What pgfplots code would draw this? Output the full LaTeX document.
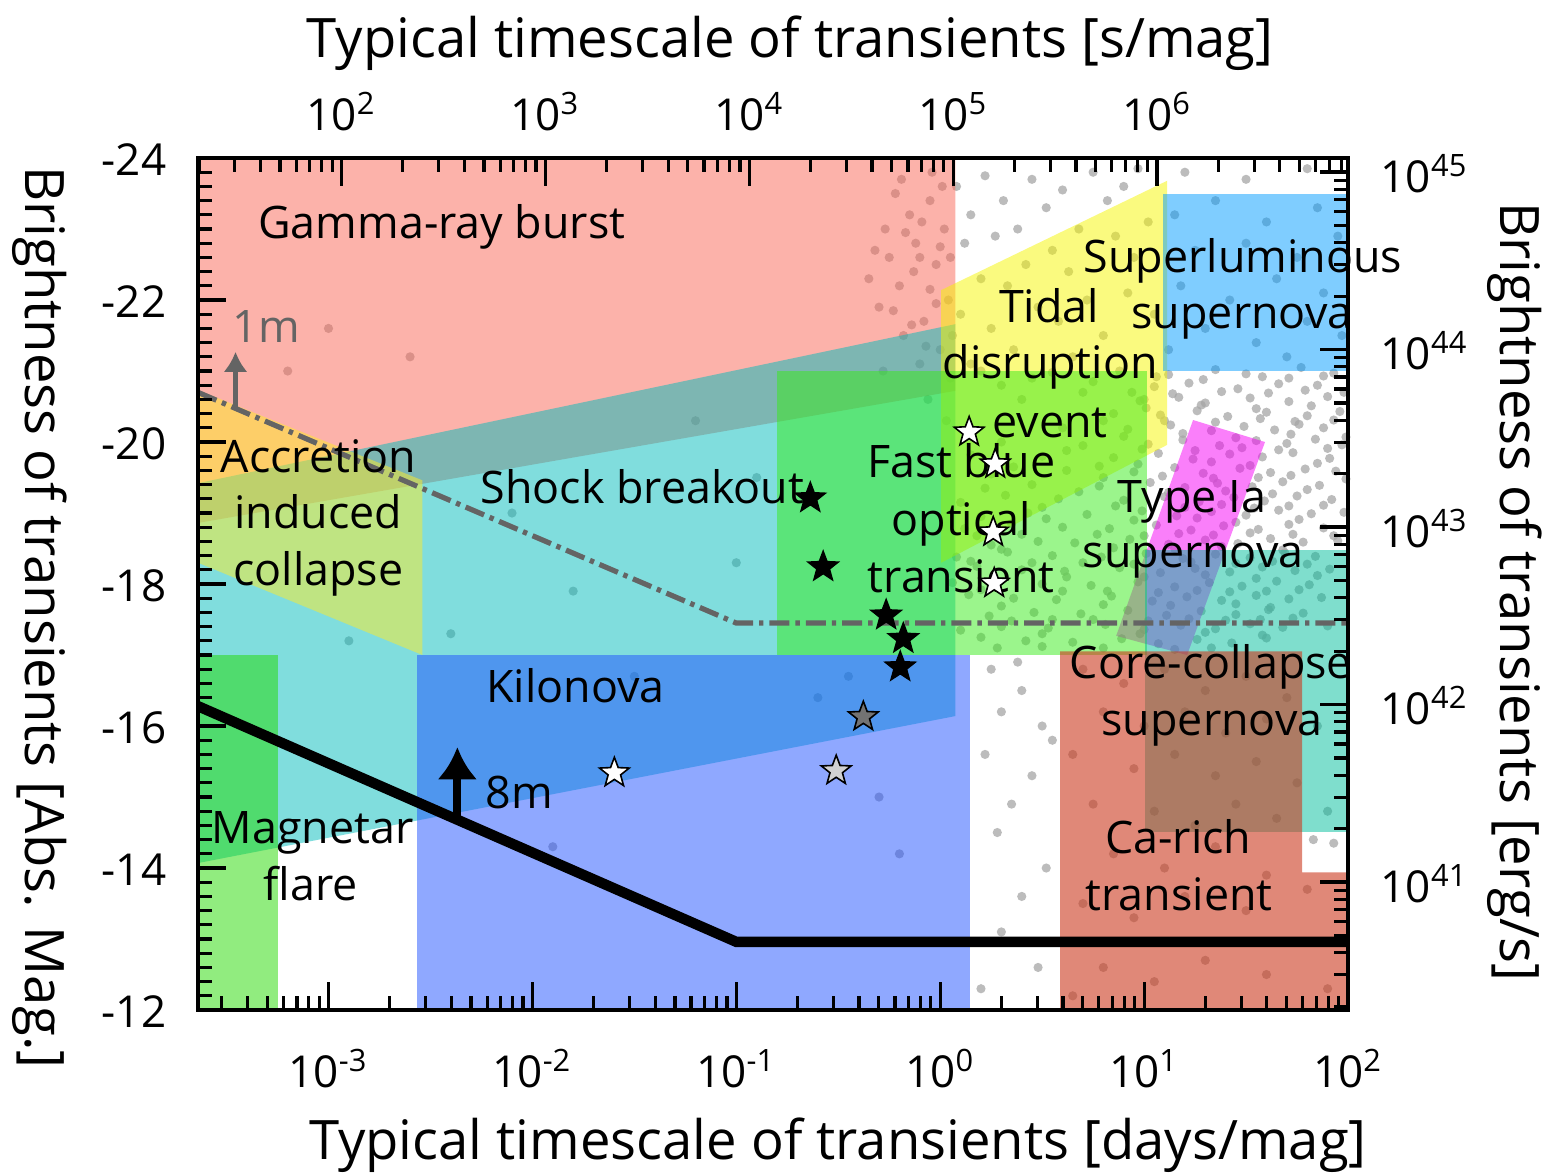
\documentclass[border=0pt]{standalone}
\usepackage{fontspec}
\setmainfont{Open Sans}
\usepackage{pgfplots}
\pgfplotsset{compat=1.18}
\usetikzlibrary{arrows.meta}
\definecolor{cgrb}{RGB}{249,101,85}
\definecolor{cteal}{RGB}{1,187,187}
\definecolor{caic}{RGB}{255,235,40}
\definecolor{cmag}{RGB}{35,217,0}
\definecolor{ckn}{RGB}{31,81,255}
\definecolor{ctde}{RGB}{245,245,0}
\definecolor{cia}{RGB}{245,0,245}
\definecolor{cfbot}{RGB}{55,235,25}
\definecolor{cslsn}{RGB}{0,155,255}
\definecolor{ccc}{RGB}{0,189,155}
\definecolor{cca}{RGB}{203,57,30}
\definecolor{lgray}{RGB}{100,100,100}
\definecolor{dotc}{RGB}{165,165,165}
\newcommand\lab{\fontsize{11.2}{13}\selectfont}
\newcommand\tlab{\fontsize{11}{13}\selectfont}
\newcommand\ttl{\fontsize{13.6}{16}\selectfont}
\pgfdeclareplotmark{fstar}{%
 \pgfpathmoveto{\pgfpointpolar{90}{\pgfplotmarksize}}%
 \pgfpathlineto{\pgfpointpolar{126}{0.42\pgfplotmarksize}}%
 \pgfpathlineto{\pgfpointpolar{162}{\pgfplotmarksize}}%
 \pgfpathlineto{\pgfpointpolar{198}{0.42\pgfplotmarksize}}%
 \pgfpathlineto{\pgfpointpolar{234}{\pgfplotmarksize}}%
 \pgfpathlineto{\pgfpointpolar{270}{0.42\pgfplotmarksize}}%
 \pgfpathlineto{\pgfpointpolar{306}{\pgfplotmarksize}}%
 \pgfpathlineto{\pgfpointpolar{342}{0.42\pgfplotmarksize}}%
 \pgfpathlineto{\pgfpointpolar{18}{\pgfplotmarksize}}%
 \pgfpathlineto{\pgfpointpolar{54}{0.42\pgfplotmarksize}}%
 \pgfpathclose
 \pgfusepathqfillstroke
}
\pgfdeclareplotmark{dot}{%
 \pgfpathcircle{\pgfpointorigin}{\pgfplotmarksize}%
 \pgfusepathqfill
}
\pgfplotsset{
  common/.style={
    at={(0pt,0pt)}, anchor=south west,
    scale only axis, width=287.5pt, height=213pt,
    tick align=inside,
    major tick length=7pt, minor tick length=3.5pt,
    every tick/.style={black, line width=0.8pt},
    axis line style={line width=1pt},
    tick label style={font=\tlab},
    label style={font=\ttl},
  }
}
\begin{document}
\begin{tikzpicture}
\path[use as bounding box] (-49.5pt,-40.5pt) rectangle (341.25pt,252.5pt);
% ---------------- main axis: log10(days) vs absolute magnitude
\begin{axis}[common,
  xmin=-3.64, xmax=2, ymin=-24, ymax=-12, y dir=reverse,
  clip mode=individual, axis on top,
  xtick pos=left, ytick pos=left,
  xtick={-3,-2,-1,0,1,2},
  xticklabels={10\textsuperscript{-3},10\textsuperscript{-2},10\textsuperscript{-1},10\textsuperscript{0},10\textsuperscript{1},10\textsuperscript{2}},
  minor xtick={-3.52288,-3.39794,-3.30103,-3.22185,-3.15490,-3.09691,-3.04576,
    -2.69897,-2.52288,-2.39794,-2.30103,-2.22185,-2.15490,-2.09691,-2.04576,
    -1.69897,-1.52288,-1.39794,-1.30103,-1.22185,-1.15490,-1.09691,-1.04576,
    -0.69897,-0.52288,-0.39794,-0.30103,-0.22185,-0.15490,-0.09691,-0.04576,
    0.30103,0.47712,0.60206,0.69897,0.77815,0.84510,0.90309,0.95424,
    1.30103,1.47712,1.60206,1.69897,1.77815,1.84510,1.90309,1.95424},
  ytick={-24,-22,-20,-18,-16,-14,-12},
  yticklabels={-24,-22,-20,-18,-16,-14,-12},
  minor y tick num=9,
  xticklabel style={anchor=base, yshift=-19.25pt, inner sep=0pt},
  yticklabel style={anchor=base east, xshift=-7.75pt, yshift=-4.25pt, inner sep=0pt},
  xlabel={Typical timescale of transients [days/mag]},
  ylabel={Brightness of transients [Abs. Mag.]},
  every axis x label/.style={at={(axis description cs:0.5565,-0.1749)}, anchor=base, font=\ttl},
  every axis y label/.style={at={(axis description cs:-0.1504,0.461)}, rotate=-90, anchor=base, font=\ttl},
]
% observed transients (background points)
\addplot[only marks, mark=dot, mark size=1.15pt, color=dotc, fill=dotc, opacity=0.75] coordinates {
(-0.05,-23.4) (0.02,-23.0) (-0.12,-22.8) (-0.02,-22.5) (-0.2,-22.2) (0.04,-22.0) (-0.08,-21.7) (-0.15,-23.2) (-0.25,-22.6) (-0.3,-21.9)
(0.0,-21.3) (-0.1,-21.1) (-0.18,-21.5) (0.05,-20.9) (-0.04,-23.8) (-0.22,-23.5) (-0.35,-22.3) (-0.28,-21.0) (-0.06,-20.6) (0.03,-20.3)
(-0.09,-23.1) (-0.17,-22.95) (0.0,-22.75) (-0.27,-23.0) (-0.13,-22.4) (-0.05,-22.15) (-0.23,-21.85) (-0.02,-21.95) (-0.14,-21.65) (0.06,-21.5)
(-0.32,-22.7) (-0.07,-21.35) (0.01,-23.6) (-0.19,-23.7) (-0.1,-22.6)
(-3.0,-21.6) (-3.2,-21.0) (-2.6,-21.2) (-2.1,-19.0) (-1.8,-17.9) (-2.4,-17.3) (-1.0,-18.3) (-1.5,-16.7) (-0.9,-19.5) (-1.2,-20.3)
(-2.9,-17.2) (-0.6,-16.4) (-1.9,-14.3) (-0.3,-15.0) (-0.45,-16.7) (-0.2,-14.2)
(0.08,-23.6) (0.15,-23.2) (0.22,-23.75) (0.31,-23.4) (0.12,-22.8) (0.27,-22.9) (0.38,-23.0) (0.45,-23.7) (0.52,-23.3) (0.6,-23.55)
(0.42,-22.5) (0.2,-22.3) (0.05,-22.6) (0.33,-22.2) (0.55,-22.7) (0.68,-23.0) (0.75,-23.8) (0.82,-23.4) (0.9,-23.6) (0.97,-23.85)
(0.63,-22.4) (0.72,-22.0) (0.86,-22.9) (0.95,-22.6) (1.02,-23.1) (0.48,-21.9) (0.1,-21.8) (0.25,-21.6) (0.36,-21.3) (0.58,-21.7)
(0.8,-21.5) (0.92,-22.1) (1.05,-21.8) (0.15,-21.1) (0.3,-20.8) (0.45,-20.9) (0.65,-21.2) (0.7,-20.7) (0.88,-21.0) (1.0,-20.6)
(1.12,-20.95) (1.35,-21.02) (1.58,-20.92) (1.77,-21.05) (1.93,-20.97) (0.55,-20.98) (0.2,-21.0)
(1.05,-20.78) (1.22,-20.83) (1.46,-20.75) (1.66,-20.82) (1.85,-20.8) (0.75,-20.85)
(0.98,-20.58) (1.17,-20.63) (1.30,-20.55) (1.52,-20.62) (1.71,-20.57) (1.90,-20.64) (0.4,-20.6)
(1.08,-20.38) (1.26,-20.44) (1.41,-20.36) (1.60,-20.42) (1.80,-20.37) (1.96,-20.43) (0.85,-20.4)
(0.92,-20.18) (1.13,-20.24) (1.33,-20.16) (1.49,-20.22) (1.64,-20.17) (1.76,-20.25) (1.88,-20.2) (0.6,-20.2)
(1.02,-19.97) (1.19,-20.03) (1.37,-19.95) (1.55,-20.02) (1.70,-19.98) (1.84,-20.04) (1.97,-19.96) (0.3,-20.0) (0.7,-19.95)
(0.85,-19.78) (1.07,-19.84) (1.24,-19.76) (1.42,-19.83) (1.58,-19.79) (1.73,-19.85) (1.91,-19.77) (0.5,-19.8) (0.15,-19.82)
(0.95,-19.58) (1.15,-19.64) (1.29,-19.56) (1.47,-19.63) (1.62,-19.57) (1.79,-19.62) (1.94,-19.59) (0.62,-19.6) (0.36,-19.65)
(0.78,-19.38) (1.03,-19.43) (1.20,-19.36) (1.36,-19.42) (1.53,-19.37) (1.68,-19.44) (1.86,-19.39) (0.45,-19.4) (0.22,-19.35)
(0.90,-19.18) (1.10,-19.23) (1.27,-19.16) (1.44,-19.22) (1.59,-19.17) (1.75,-19.24) (1.92,-19.19) (0.58,-19.2) (0.32,-19.25) (0.1,-19.15)
(0.72,-18.98) (0.99,-19.03) (1.16,-18.96) (1.33,-19.02) (1.50,-18.97) (1.66,-19.04) (1.82,-18.99) (1.98,-19.01) (0.43,-19.0) (0.2,-18.95)
(0.83,-18.78) (1.06,-18.83) (1.23,-18.76) (1.39,-18.82) (1.56,-18.77) (1.71,-18.84) (1.88,-18.79) (0.6,-18.8) (0.35,-18.85) (0.12,-18.78)
(0.66,-18.58) (0.93,-18.63) (1.12,-18.56) (1.30,-18.62) (1.46,-18.57) (1.62,-18.64) (1.78,-18.59) (1.95,-18.61) (0.48,-18.6) (0.25,-18.55)
(0.79,-18.38) (1.01,-18.43) (1.19,-18.36) (1.35,-18.42) (1.52,-18.37) (1.69,-18.44) (1.84,-18.39) (0.55,-18.4) (0.33,-18.45) (0.08,-18.38)
(0.61,-18.18) (0.88,-18.23) (1.08,-18.16) (1.25,-18.22) (1.42,-18.17) (1.58,-18.24) (1.74,-18.19) (1.91,-18.21) (0.4,-18.2) (0.18,-18.25)
(0.74,-17.98) (0.97,-18.03) (1.15,-17.96) (1.32,-18.02) (1.48,-17.97) (1.65,-18.04) (1.81,-17.99) (0.5,-18.0) (0.28,-17.95) (0.06,-18.02)
(0.57,-17.78) (0.84,-17.83) (1.04,-17.76) (1.21,-17.82) (1.38,-17.77) (1.55,-17.84) (1.71,-17.79) (1.87,-17.81) (0.36,-17.8) (0.14,-17.85)
(0.69,-17.58) (0.92,-17.63) (1.11,-17.56) (1.28,-17.62) (1.45,-17.57) (1.61,-17.64) (1.78,-17.59) (0.46,-17.6) (0.24,-17.55)
(0.53,-17.38) (0.81,-17.43) (1.00,-17.36) (1.18,-17.42) (1.35,-17.37) (1.52,-17.44) (1.68,-17.39) (1.9,-17.41) (0.3,-17.4) (0.1,-17.35)
(0.65,-17.18) (0.89,-17.23) (1.07,-17.16) (1.26,-17.22) (1.43,-17.17) (1.60,-17.24) (0.42,-17.2) (0.2,-17.25)
(1.01,-20.48) (1.28,-20.52) (1.55,-20.47) (1.82,-20.51)
(0.9,-20.08) (1.19,-20.12) (1.45,-20.06) (1.72,-20.11) (1.99,-20.07)
(0.97,-19.69) (1.33,-19.72) (1.52,-19.67) (1.85,-19.7) (0.78,-19.66)
(1.12,-19.29) (1.4,-19.31) (1.63,-19.27) (1.8,-19.33) (0.68,-19.3)
(0.95,-18.9) (1.26,-18.93) (1.45,-18.87) (1.76,-18.91) (0.52,-18.92)
(1.15,-18.5) (1.38,-18.53) (1.68,-18.48) (0.85,-18.51) (0.3,-18.49)
(1.0,-18.1) (1.3,-18.13) (1.55,-18.08) (1.85,-18.12) (0.62,-18.1)
(1.13,-17.7) (1.45,-17.72) (1.62,-17.67) (0.8,-17.71) (0.3,-17.69)
(0.98,-17.3) (1.3,-17.32) (1.58,-17.28) (0.5,-17.3)
(1.06,-20.92) (1.29,-20.88) (1.5,-20.96) (1.71,-20.9) (1.88,-20.93)
(0.94,-20.7) (1.14,-20.68) (1.38,-20.71) (1.61,-20.69) (1.79,-20.73) (1.98,-20.7)
(1.1,-20.3) (1.35,-20.28) (1.57,-20.33) (1.74,-20.29) (1.93,-20.31) (0.8,-20.3)
(0.99,-19.9) (1.25,-19.88) (1.48,-19.92) (1.66,-19.89) (1.9,-19.91) (0.62,-19.88)
(1.09,-19.52) (1.34,-19.49) (1.56,-19.5) (1.72,-19.53) (1.99,-19.48) (0.8,-19.5) (0.25,-19.55)
(0.86,-19.1) (1.2,-19.08) (1.38,-19.12) (1.54,-19.07) (1.71,-19.1) (1.88,-19.11) (0.5,-19.08)
(0.77,-18.7) (1.0,-18.68) (1.17,-18.71) (1.34,-18.69) (1.52,-18.72) (1.73,-18.7) (1.93,-18.68) (0.4,-18.7) (0.18,-18.68)
(0.7,-18.3) (0.95,-18.28) (1.23,-18.31) (1.45,-18.29) (1.63,-18.32) (1.8,-18.28) (0.45,-18.3) (0.15,-18.32)
(0.82,-17.9) (1.07,-17.88) (1.26,-17.91) (1.42,-17.89) (1.6,-17.9) (1.76,-17.92) (0.6,-17.9) (0.2,-17.92)
(0.75,-17.5) (1.02,-17.48) (1.22,-17.51) (1.4,-17.49) (1.57,-17.5) (1.73,-17.52) (0.55,-17.5) (0.35,-17.48)
(0.8,-17.1) (1.15,-17.08) (1.33,-17.1) (0.5,-17.12) (0.28,-17.1)
(0.25,-16.8) (0.4,-16.5) (0.3,-16.2) (0.5,-16.0) (0.22,-15.6) (0.45,-15.3) (0.35,-14.9) (0.28,-14.5) (0.52,-14.0) (0.4,-13.6)
(0.3,-13.1) (0.48,-12.6) (0.2,-12.3) (0.55,-15.8) (0.38,-16.9)
(0.7,-16.8) (0.9,-16.6) (1.1,-16.8) (1.3,-16.5) (1.5,-16.7) (1.7,-16.4) (0.8,-16.2) (1.0,-16.0) (1.2,-16.2) (1.4,-15.9)
(1.6,-16.1) (1.85,-16.0) (0.65,-15.6) (0.95,-15.4) (1.15,-15.6) (1.35,-15.3) (1.55,-15.5) (1.75,-15.2) (0.75,-14.9) (1.05,-14.8)
(1.25,-14.6) (1.45,-14.9) (1.65,-14.7) (1.9,-14.8) (0.85,-14.2) (1.1,-14.0) (1.35,-14.3) (1.6,-13.9) (0.7,-13.5) (0.95,-13.3)
(1.2,-13.6) (1.5,-13.4) (1.8,-13.7) (0.8,-12.6) (1.05,-12.4) (1.3,-12.7) (1.6,-12.5) (1.9,-12.3) (0.65,-12.2) (1.83,-14.4) (1.93,-14.35)
(1.15,-23.2) (1.35,-23.4) (1.6,-23.1) (1.85,-23.3) (1.25,-22.7) (1.5,-22.8) (1.75,-22.6) (1.95,-22.9) (1.18,-22.2) (1.42,-22.0)
(1.65,-22.3) (1.88,-22.1) (1.3,-21.6) (1.55,-21.4) (1.8,-21.7) (1.12,-21.3) (1.7,-21.2) (1.97,-21.5) (1.2,-23.8) (1.5,-23.7) (1.8,-23.85)
};
% ---- transient classes
% Gamma-ray burst
\addplot[draw=none, fill=cgrb, fill opacity=0.5] coordinates {(-3.64,-24) (0.074,-24) (0.074,-20.72) (-3.64,-18.86)} -- cycle;
% Shock breakout
\addplot[draw=none, fill=cteal, fill opacity=0.5] coordinates {(-3.64,-19.42) (0.074,-21.66) (0.074,-16.14) (-3.64,-14.07)} -- cycle;
% Accretion induced collapse
\addplot[draw=none, fill=caic, fill opacity=0.5] coordinates {(-3.64,-20.73) (-2.539,-19.46) (-2.539,-17.0) (-3.64,-18.30)} -- cycle;
% Magnetar flare
\addplot[draw=none, fill=cmag, fill opacity=0.5] coordinates {(-3.64,-17) (-3.25,-17) (-3.25,-12) (-3.64,-12)} -- cycle;
% Kilonova
\addplot[draw=none, fill=ckn, fill opacity=0.5] coordinates {(-2.564,-17) (0.147,-17) (0.147,-12) (-2.564,-12)} -- cycle;
% Tidal disruption event
\addplot[draw=none, fill=ctde, fill opacity=0.5] coordinates {(0.005,-22.14) (1.113,-23.68) (1.113,-19.96) (0.005,-18.30)} -- cycle;
% Type Ia supernova
\addplot[draw=none, fill=cia, fill opacity=0.5] coordinates {(1.240,-20.31) (1.593,-20.0) (1.211,-17.0) (0.863,-17.27)} -- cycle;
% Fast blue optical transient
\addplot[draw=none, fill=cfbot, fill opacity=0.5] coordinates {(-0.799,-21.0) (1.015,-21.0) (1.015,-17.0) (-0.799,-17.0)} -- cycle;
% Superluminous supernova
\addplot[draw=none, fill=cslsn, fill opacity=0.5] coordinates {(1.093,-23.5) (2,-23.5) (2,-21) (1.093,-21)} -- cycle;
% Core-collapse supernova
\addplot[draw=none, fill=ccc, fill opacity=0.5] coordinates {(1.005,-18.48) (2,-18.48) (2,-14.51) (1.005,-14.51)} -- cycle;
% Ca-rich transient
\addplot[draw=none, fill=cca, fill opacity=0.6] coordinates {(0.588,-17.05) (1.775,-17.05) (1.775,-13.94) (2,-13.94) (2,-12) (0.588,-12)} -- cycle;
% ---- detection limits
\addplot[lgray, line width=1.3pt, dash pattern=on 5pt off 1.5pt on 1.1pt off 1.5pt] coordinates {(-3.64,-20.70) (-1.0,-17.45) (2,-17.45)};
\addplot[black, line width=2.6pt] coordinates {(-3.64,-16.28) (-1.0,-12.96) (2,-12.96)};
\addplot[lgray, line width=1.2pt, -{Latex[length=5pt,width=6pt]}] coordinates {(-3.456,-20.47) (-3.456,-21.27)};
\addplot[black, line width=2pt, -{Latex[length=8pt,width=10pt]}] coordinates {(-2.368,-14.68) (-2.368,-15.70)};
% ---- labels
\node[anchor=base, font=\lab] at (axis cs:-2.444,-22.873) {Gamma-ray burst};
\node[anchor=base, font=\lab, text=lgray] at (axis cs:-3.304,-21.408) {1m};
\node[anchor=base, font=\lab] at (axis cs:-3.049,-19.577) {Accretion};
\node[anchor=base, font=\lab] at (axis cs:-3.049,-18.789) {induced};
\node[anchor=base, font=\lab] at (axis cs:-3.049,-17.986) {collapse};
\node[anchor=base, font=\lab] at (axis cs:-1.461,-19.141) {Shock breakout};
\node[anchor=base, font=\lab] at (axis cs:-1.789,-16.338) {Kilonova};
\node[anchor=base, font=\lab] at (axis cs:-2.064,-14.845) {8m};
\node[anchor=base, font=\lab] at (axis cs:-3.078,-14.352) {Magnetar};
\node[anchor=base, font=\lab] at (axis cs:-3.088,-13.549) {flare};
\node[anchor=base, font=\lab] at (axis cs:0.534,-21.690) {Tidal};
\node[anchor=base, font=\lab] at (axis cs:0.539,-20.901) {disruption};
\node[anchor=base, font=\lab] at (axis cs:0.539,-20.070) {event};
\node[anchor=base, font=\lab] at (axis cs:0.103,-19.507) {Fast blue};
\node[anchor=base, font=\lab] at (axis cs:0.103,-18.690) {optical};
\node[anchor=base, font=\lab] at (axis cs:0.103,-17.887) {transient};
\node[anchor=base, font=\lab] at (axis cs:1.485,-22.394) {Superluminous};
\node[anchor=base, font=\lab] at (axis cs:1.480,-21.606) {supernova};
\node[anchor=base, font=\lab] at (axis cs:1.235,-19.014) {Type Ia};
\node[anchor=base, font=\lab] at (axis cs:1.240,-18.239) {supernova};
\node[anchor=base, font=\lab] at (axis cs:1.328,-16.676) {Core-collapse};
\node[anchor=base, font=\lab] at (axis cs:1.333,-15.873) {supernova};
\node[anchor=base, font=\lab] at (axis cs:1.167,-14.211) {Ca-rich};
\node[anchor=base, font=\lab] at (axis cs:1.172,-13.408) {transient};
% ---- individual transients (stars)
\addplot[only marks, mark=fstar, mark size=3.9pt, mark options={fill=black, draw=black, line width=0.4pt}] coordinates {
(-0.637,-19.21) (-0.574,-18.24) (-0.265,-17.56) (-0.181,-17.23) (-0.196,-16.83)};
\addplot[only marks, mark=fstar, mark size=3.9pt, mark options={fill=black!55, draw=black, line width=0.4pt}] coordinates {(-0.377,-16.13)};
\addplot[only marks, mark=fstar, mark size=3.9pt, mark options={fill=black!18, draw=black, line width=0.4pt}] coordinates {(-0.510,-15.37)};
\addplot[only marks, mark=fstar, mark size=3.9pt, mark options={fill=white, draw=black, line width=0.4pt}] coordinates {
(-1.598,-15.34) (0.142,-20.14) (0.270,-19.69) (0.260,-18.73) (0.265,-18.01)};
\end{axis}
% ---------------- top axis: seconds per magnitude
\begin{axis}[common,
  xmin=1.2965, xmax=6.9365, ymin=0, ymax=1,
  axis x line*=top, axis y line=none,
  axis line style={-},
  xtick={2,3,4,5,6},
  xticklabels={10\textsuperscript{2},10\textsuperscript{3},10\textsuperscript{4},10\textsuperscript{5},10\textsuperscript{6}},
  minor xtick={1.30103,1.47712,1.60206,1.69897,1.77815,1.84510,1.90309,1.95424,
    2.30103,2.47712,2.60206,2.69897,2.77815,2.84510,2.90309,2.95424,
    3.30103,3.47712,3.60206,3.69897,3.77815,3.84510,3.90309,3.95424,
    4.30103,4.47712,4.60206,4.69897,4.77815,4.84510,4.90309,4.95424,
    5.30103,5.47712,5.60206,5.69897,5.77815,5.84510,5.90309,5.95424,
    6.30103,6.47712,6.60206,6.69897,6.77815,6.84510,6.90309},
  xticklabel style={anchor=base, yshift=7pt, inner sep=0pt},
  xlabel={Typical timescale of transients [s/mag]},
  every axis x label/.style={at={(axis description cs:0.515,1.1185)}, anchor=base, font=\ttl},
]
\addplot[draw=none] coordinates {(3,0.5)};
\end{axis}
% ---------------- right axis: luminosity
\begin{axis}[common,
  xmin=0, xmax=1, ymin=40.279, ymax=45.079,
  axis y line*=right, axis x line=none,
  axis line style={-},
  ytick={41,42,43,44,45},
  yticklabels={10\textsuperscript{41},10\textsuperscript{42},10\textsuperscript{43},10\textsuperscript{44},10\textsuperscript{45}},
  minor ytick={40.30103,40.47712,40.60206,40.69897,40.77815,40.84510,40.90309,40.95424,
    41.30103,41.47712,41.60206,41.69897,41.77815,41.84510,41.90309,41.95424,
    42.30103,42.47712,42.60206,42.69897,42.77815,42.84510,42.90309,42.95424,
    43.30103,43.47712,43.60206,43.69897,43.77815,43.84510,43.90309,43.95424,
    44.30103,44.47712,44.60206,44.69897,44.77815,44.84510,44.90309,44.95424},
  yticklabel style={anchor=base west, xshift=8pt, yshift=-5pt, inner sep=0pt},
  ylabel={Brightness of transients [erg/s]},
  every axis y label/.style={at={(axis description cs:1.1322,0.4906)}, rotate=-90, anchor=base, font=\ttl},
]
\addplot[draw=none] coordinates {(0.5,42)};
\end{axis}
\end{tikzpicture}
\end{document}
